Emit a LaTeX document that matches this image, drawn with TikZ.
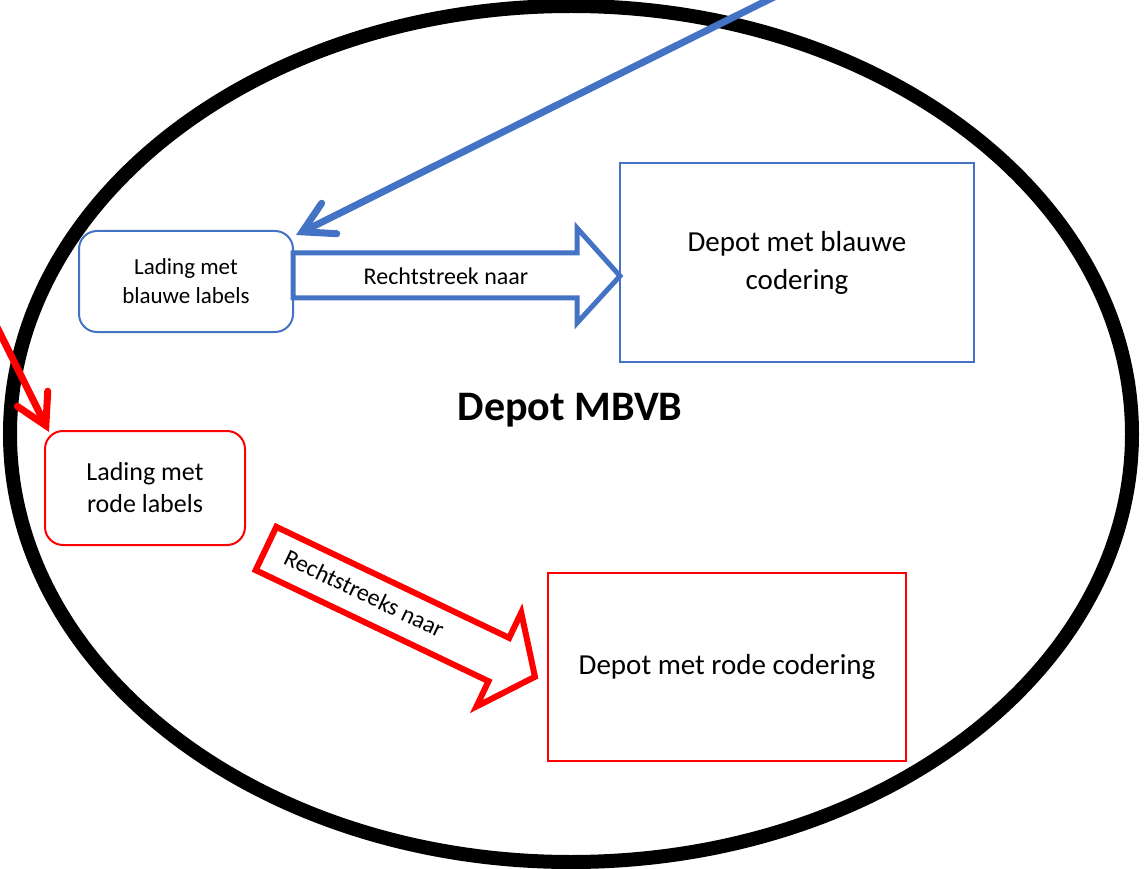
\documentclass[tikz,border=0pt]{standalone}
\usepackage{fontspec}
\setmainfont{Carlito}
\usetikzlibrary{arrows.meta}
\definecolor{lblauw}{HTML}{4472C4}
\definecolor{lrood}{HTML}{FF0000}
\tikzset{
	lading/.style={draw, rounded corners=18pt, line width=2pt, align=center, inner sep=0pt, text=black},
	depot/.style={draw, line width=2pt, align=center, inner sep=0pt, text=black},
	aanvoer/.style={line width=7pt, line cap=round, -{Straight Barb[length=30pt,width=34pt,line cap=round]}}
}

\begin{document}
\begin{tikzpicture}[x=1pt,y=-1pt]
	\useasboundingbox (0,0) rectangle (1144,869);
	\clip (0,0) rectangle (1144,869);
	\draw[line width=14pt] (571,434) ellipse [x radius=561, y radius=428];
	\node[anchor=base, font=\fontsize{42}{50}\selectfont\bfseries] (mbvb) at (570,420) {Depot MBVB};

	\node[lading, draw=lblauw, minimum width=214pt, minimum height=101pt, font=\fontsize{23}{29}\selectfont] (blad) at (186,281.5) {Lading met\\blauwe labels};
	\node[depot, draw=lblauw, minimum width=354pt, minimum height=199pt, font=\fontsize{29}{38}\selectfont] (bdep) at (797,262.5) {Depot met blauwe\\codering};
	\node[lading, draw=lrood, minimum width=200pt, minimum height=114pt, font=\fontsize{26}{32}\selectfont] (rlad) at (145,488) {Lading met\\rode labels};
	\node[depot, draw=lrood, minimum width=358pt, minimum height=188pt, font=\fontsize{29}{38}\selectfont] (rdep) at (727,667) {Depot met rode codering};

	% blauwe pijl
	\draw[lblauw, line width=5pt] (293,253) -- (577,253) -- (577,228) -- (620,276) -- (577,323) -- (577,298) -- (293,298) -- cycle;
	\node[font=\fontsize{24}{29}\selectfont] (bnaar) at (446,276) {Rechtstreek naar};

	% rode pijl
	\begin{scope}[shift={(266,548.5)}, rotate=-25.5]
		\draw[lrood, line width=6pt] (0,-24) -- (258,-24) -- (258,-52) -- (298,0) -- (258,52) -- (258,24) -- (0,24) -- cycle;
		\node[rotate=-25.5, font=\fontsize{24}{29}\selectfont] (rnaar) at (108,-2) {Rechtstreeks naar};
	\end{scope}

	\coordinate (bvan) at (780,-6);
	\coordinate (rvan) at (-12,309);
	\draw[aanvoer, lblauw] (bvan) -- ([shift={(2,5)}]blad.north east);
	\draw[aanvoer, lrood] (rvan) -- ([shift={(5,2)}]rlad.north west);
\end{tikzpicture}
\end{document}
